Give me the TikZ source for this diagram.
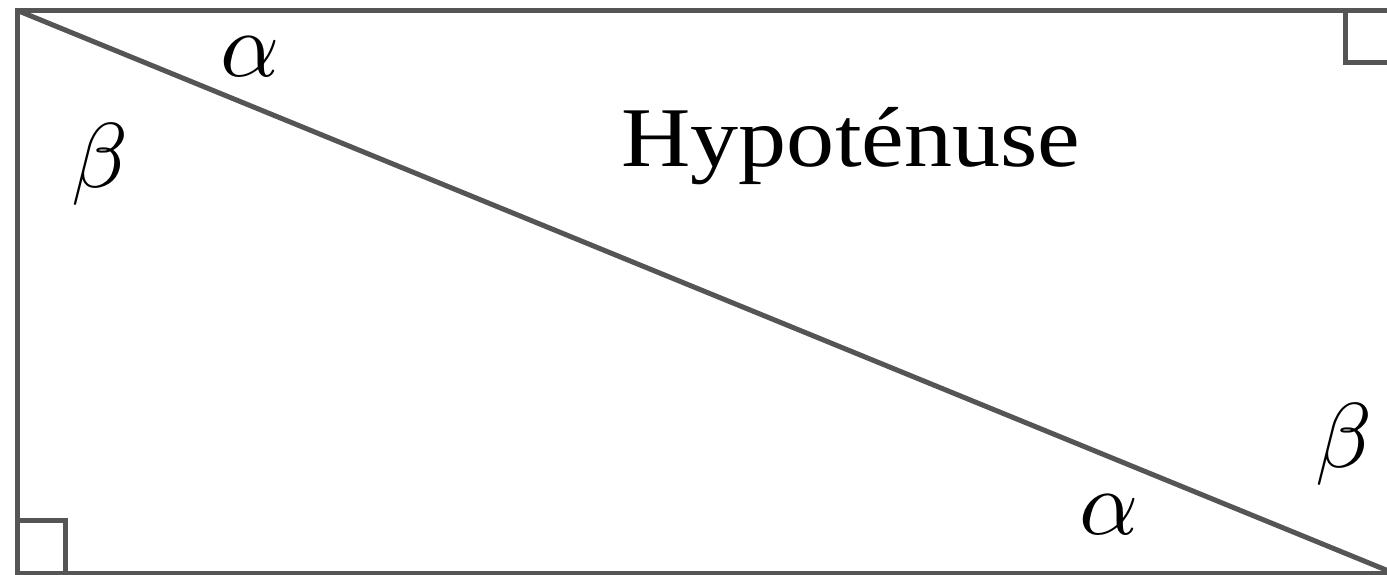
\documentclass[tikz,border=0pt]{standalone}
\usepackage{graphicx}
\usepackage{fontspec}
\newfontfamily\hypfont{Liberation Serif}
\definecolor{edge}{HTML}{555555}
\tikzset{
  side/.style={draw=edge, line width=2.5pt, line cap=rect},
  rightangle/.style={draw=edge, line width=2.5pt},
  greek/.style={inner sep=0pt},
  title/.style={inner sep=0pt, anchor=base, font=\hypfont\fontsize{42.5}{46}\selectfont}
}
\newcommand{\biggreek}[1]{\scalebox{4.6}{$#1$}}
\begin{document}
\begin{tikzpicture}[x=0.5pt, y=-0.5pt]
\useasboundingbox (0,0) rectangle (1387,574);
\clip (0,0) rectangle (1387,574);
\coordinate (TL) at (17.5,10.5);
\coordinate (BR) at (1393.5,573);
\coordinate (TR) at (1393.5,10.5);
\coordinate (BL) at (17.5,573);
\draw[side] (TL) rectangle (BR);
\draw[side, line cap=round] (TL) -- (BR);
\draw[rightangle] (BL) ++(0,-53) -| ++(48.3,53);
\draw[rightangle] (TR) ++(-48.3,0) |- ++(48.3,52);
\node[greek] (a1) at (250,57) {\biggreek{\alpha}};
\node[greek] (b1) at (100,164) {\biggreek{\beta}};
\node[greek] (a2) at (1109,515) {\biggreek{\alpha}};
\node[greek] (b2) at (1344,444) {\biggreek{\beta}};
\node[title] (hyp) at (851,166) {\scalebox{1.13}[1]{Hypoténuse}};
\end{tikzpicture}
\end{document}
